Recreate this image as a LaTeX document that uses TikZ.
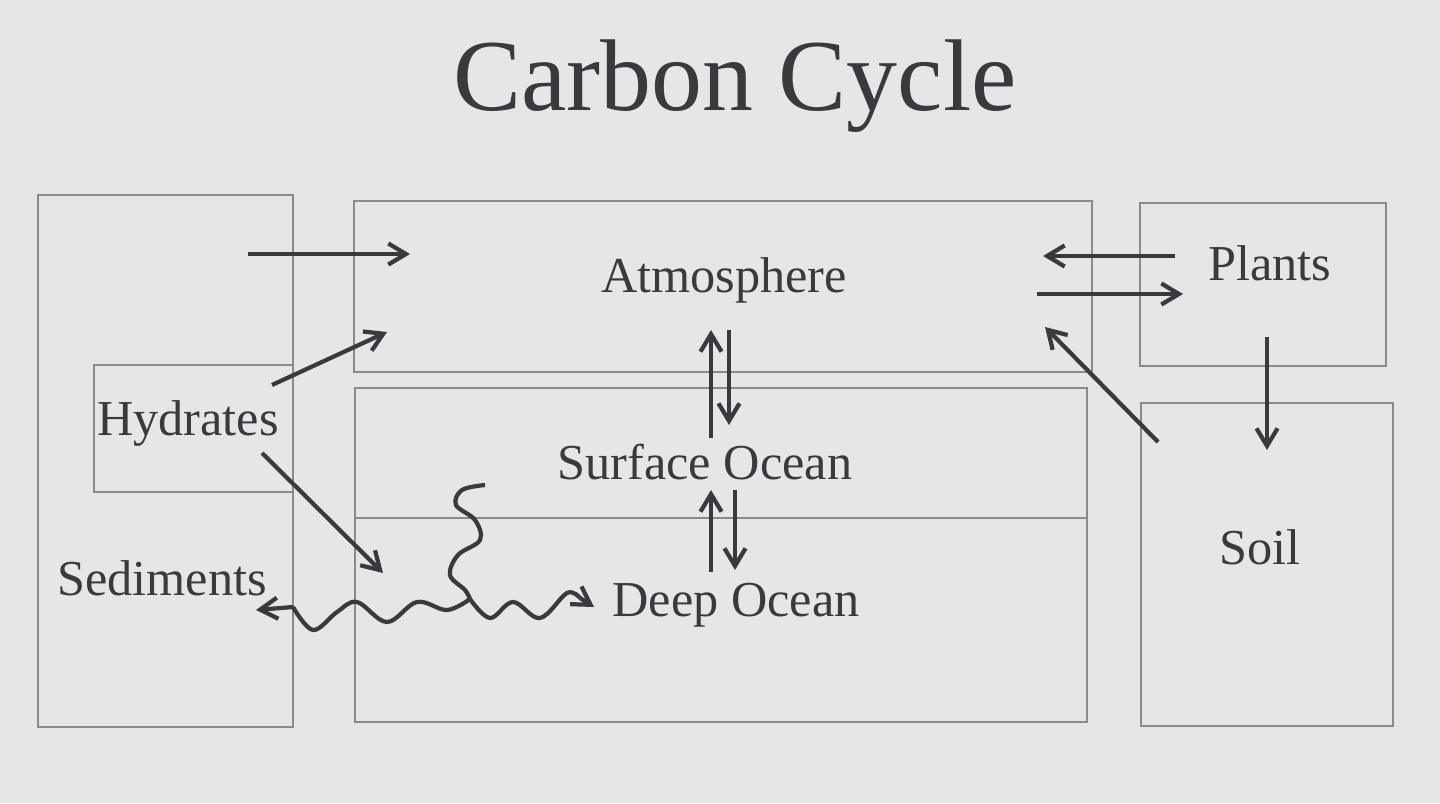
\documentclass[tikz,border=0pt]{standalone}
\usepackage{fontspec}
\setmainfont{Liberation Serif}
\usetikzlibrary{arrows.meta}
\definecolor{bg}{HTML}{E4E6E8}
\definecolor{ink}{HTML}{3A3A3E}
\definecolor{boxc}{HTML}{8A8A8E}
\begin{document}
\begin{tikzpicture}[x=0.01cm,y=-0.01cm,
  box/.style={draw=boxc,line width=0.8pt},
  lab/.style={text=ink,font=\fontsize{14.3}{16}\selectfont},
  arr/.style={draw=ink,line width=1.2pt,-{Straight Barb[length=5pt,width=6pt]}},
  wline/.style={draw=ink,line width=1.2pt}]
\fill[bg] (0,0) rectangle (1440,803);
\useasboundingbox (0,0) rectangle (1440,803);
\node[text=ink,font=\fontsize{29}{32}\selectfont] (title) at (735,86) {Carbon Cycle};
\draw[box] (38,195) rectangle (293,727);
\draw[box] (94,365) rectangle (293,492);
\draw[box] (354,201) rectangle (1092,372);
\draw[box] (355,388) rectangle (1087,722);
\draw[box] (355,518) -- (1087,518);
\draw[box] (1140,203) rectangle (1386,366);
\draw[box] (1141,403) rectangle (1393,726);
\node[lab] (atm) at (724,280) {Atmosphere};
\node[lab] (surf) at (705,462) {Surface Ocean};
\node[lab] (deep) at (736,605) {Deep Ocean};
\node[lab] (hyd) at (188,423) {Hydrates};
\node[lab] (sed) at (162,578) {Sediments};
\node[lab] (pl) at (1270,263) {Plants};
\node[lab] (soil) at (1260,547) {Soil};
\coordinate (a1) at (248,254); \coordinate (a2) at (410,254);
\draw[arr] (a1) -- (a2);
\coordinate (b1) at (272,385); \coordinate (b2) at (387,332);
\draw[arr] (b1) -- (b2);
\coordinate (c1) at (1175,256); \coordinate (c2) at (1043,256);
\draw[arr] (c1) -- (c2);
\coordinate (d1) at (1037,294); \coordinate (d2) at (1183,294);
\draw[arr] (d1) -- (d2);
\coordinate (e1) at (1158,442); \coordinate (e2) at (1045,327);
\draw[arr] (e1) -- (e2);
\coordinate (f1) at (1267,337); \coordinate (f2) at (1267,450);
\draw[arr] (f1) -- (f2);
\coordinate (g1) at (711,438); \coordinate (g2) at (711,330);
\draw[arr] (g1) -- (g2);
\coordinate (h1) at (729,330); \coordinate (h2) at (729,425);
\draw[arr] (h1) -- (h2);
\coordinate (i1) at (711,572); \coordinate (i2) at (711,490);
\draw[arr] (i1) -- (i2);
\coordinate (j1) at (735,490); \coordinate (j2) at (735,570);
\draw[arr] (j1) -- (j2);
\coordinate (k1) at (262,453); \coordinate (k2) at (383,573);
\draw[arr] (k1) -- (k2);
\coordinate (w0) at (470,599);
% left wave
\draw[wline] plot[smooth,tension=0.6] coordinates {(470,599) (447,610) (417,602) (387,622) (357,602) (337,612) (313,630) (293,607)};
\coordinate (wl2) at (293,607); \coordinate (wl) at (256,610);
\draw[arr] (wl2) -- (wl);
% right wave
\draw[wline] plot[smooth,tension=0.6] coordinates {(470,599) (490,618) (513,602) (540,618) (567,593) (580,598)};
\coordinate (wr2) at (580,598); \coordinate (wr) at (594,607);
\draw[arr] (wr2) -- (wr);
% vertical squiggle
\draw[wline] plot[smooth,tension=0.6] coordinates {(470,599) (465,590) (450,575) (458,555) (480,540) (475,520) (456,505) (462,490) (485,485)};
\end{tikzpicture}
\end{document}
